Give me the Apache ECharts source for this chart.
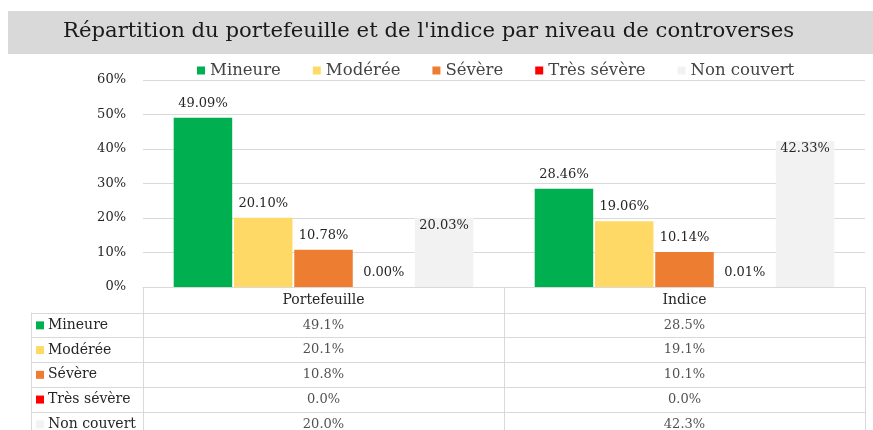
<!DOCTYPE html>
<html>
<head>
<meta charset="utf-8">
<script src="https://cdn.jsdelivr.net/npm/echarts@6/dist/echarts.min.js"></script>
<style>
  html, body { margin: 0; padding: 0; background: #fff; }
  #chart { width: 873px; height: 430px; }
</style>
</head>
<body>
<div id="chart"></div>
<script>
// données
const categories = ["Portefeuille", "Indice"];
const niveaux = ["Mineure", "Modérée", "Sévère", "Très sévère", "Non couvert"];
const mineure = [49.09, 28.46];
const moderee = [20.10, 19.06];
const severe = [10.78, 10.14];
const tresSevere = [0.00, 0.01];
const nonCouvert = [20.03, 42.33];
const yTicks = [0, 10, 20, 30, 40, 50, 60];

const couleurs = ["#00b050", "#ffd966", "#ed7d31", "#ff0000", "#f2f2f2"];
const valeurs = [mineure, moderee, severe, tresSevere, nonCouvert];

const FONT = "DejaVu Serif";
const TXT = "#262626";
const LIGNE = "#d9d9d9";
// le tableau est coupé en bas de l'image : on n'en voit que 4,73 lignes
const ROWS_VISIBLES = 4.73;
const ROW_H = 24.7;

let myChart = echarts.init(document.getElementById("chart"));

// barres
let barSeries = niveaux.map((nom, i) => ({
  name: nom,
  type: "bar",
  xAxisIndex: 0,
  yAxisIndex: 0,
  data: valeurs[i],
  barGap: "3%",
  barCategoryGap: "17%",
  itemStyle: { color: couleurs[i] },
  label: {
    show: true,
    position: i === 4 ? "insideTop" : "top",
    distance: i === 4 ? 1 : 8,
    fontFamily: FONT,
    fontSize: 13,
    color: TXT,
    formatter: (p) => p.value.toFixed(2) + "%",
  },
  emphasis: { disabled: true },
}));

// tableau sous le graphique : [colonne, milieu de ligne, valeur]
let tableData = [];
niveaux.forEach((nom, r) => {
  categories.forEach((c, ci) => {
    tableData.push([ci, r + 0.5, valeurs[r][ci]]);
  });
});

let rich = {
  t: { fontFamily: FONT, fontSize: 14, color: TXT, padding: [0, 0, 0, 4], lineHeight: ROW_H },
};
couleurs.forEach((c, i) => {
  rich["s" + i] = { width: 8, height: 8, backgroundColor: c, verticalAlign: "middle" };
});

let option = {
  animation: false,
  textStyle: { fontFamily: FONT },
  graphic: [
    {
      type: "rect",
      z: -10,
      shape: { x: 8, y: 11, width: 865, height: 43 },
      style: { fill: "#dad9da" },
    },
  ],
  title: {
    text: "Répartition du portefeuille et de l'indice par niveau de controverses",
    left: 63,
    top: 21,
    padding: 0,
    textStyle: { fontFamily: FONT, fontSize: 21.2, fontWeight: "normal", color: "#1a1a1a" },
  },
  legend: {
    data: niveaux,
    left: 197,
    top: 62,
    padding: 0,
    icon: "rect",
    itemWidth: 8,
    itemHeight: 8,
    itemGap: 32,
    selectedMode: false,
    textStyle: { fontFamily: FONT, fontSize: 16.5, color: "#444" },
  },
  grid: [
    { left: 143, right: 8, top: 80, height: 207, outerBoundsMode: "none" },
    { left: 143, right: 8, top: 313, bottom: 0, outerBoundsMode: "none" },
  ],
  xAxis: [
    {
      type: "category",
      gridIndex: 0,
      data: categories,
      axisLine: { lineStyle: { color: LIGNE } },
      axisTick: { show: true, length: 26, lineStyle: { color: LIGNE } },
      axisLabel: { margin: 6, fontFamily: FONT, fontSize: 14, color: TXT },
    },
    {
      type: "category",
      gridIndex: 1,
      data: categories,
      axisLine: { show: false },
      axisTick: { show: false },
      axisLabel: { show: false },
      splitLine: { show: true, lineStyle: { color: LIGNE } },
    },
  ],
  yAxis: [
    {
      type: "value",
      gridIndex: 0,
      min: yTicks[0],
      max: yTicks[yTicks.length - 1],
      interval: 10,
      axisLine: { show: false },
      axisTick: { show: false },
      axisLabel: { margin: 17, fontFamily: FONT, fontSize: 13, color: TXT, formatter: "{value}%" },
      splitLine: { lineStyle: { color: LIGNE } },
    },
    {
      type: "value",
      gridIndex: 1,
      inverse: true,
      min: 0,
      max: ROWS_VISIBLES,
      interval: 1,
      axisLine: { show: true, lineStyle: { color: LIGNE } },
      axisTick: { show: true, length: 112, lineStyle: { color: LIGNE } },
      axisLabel: {
        margin: 107,
        align: "left",
        verticalAlign: "top",
        showMaxLabel: false,
        formatter: (v) =>
          Number.isInteger(v) && v < niveaux.length ? "{s" + v + "|}{t|" + niveaux[v] + "}" : "",
        rich: rich,
      },
      splitLine: { show: true, showMaxLine: false, lineStyle: { color: LIGNE } },
    },
    {
      // bord gauche du tableau
      type: "value",
      gridIndex: 1,
      inverse: true,
      min: 0,
      max: ROWS_VISIBLES,
      position: "left",
      offset: 112,
      axisLine: { show: true, lineStyle: { color: LIGNE } },
      axisTick: { show: false },
      axisLabel: { show: false },
      splitLine: { show: false },
    },
  ],
  series: [
    ...barSeries,
    {
      name: "tableau",
      type: "scatter",
      xAxisIndex: 1,
      yAxisIndex: 1,
      silent: true,
      symbolSize: 1,
      itemStyle: { color: "rgba(0,0,0,0)" },
      data: tableData,
      label: {
        show: true,
        position: "inside",
        fontFamily: FONT,
        fontSize: 13,
        color: TXT,
        formatter: (p) => p.value[2].toFixed(1) + "%",
      },
    },
  ],
};

myChart.setOption(option);
</script>
</body>
</html>
